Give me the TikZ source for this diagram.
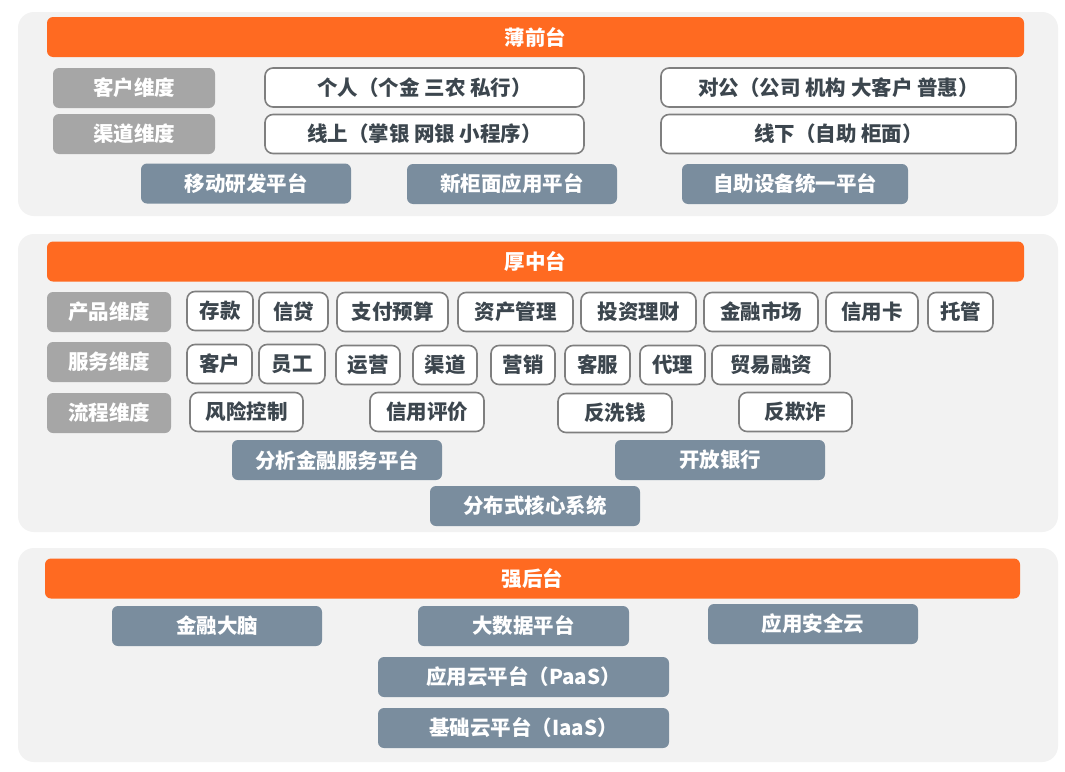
\documentclass[tikz,border=0pt]{standalone}
\usepackage{fontspec}
\setmainfont{Noto Sans CJK SC}
\definecolor{tierorange}{HTML}{FF6A21}
\definecolor{dimgray}{HTML}{A6A6A6}
\definecolor{platslate}{HTML}{7A8D9E}
\definecolor{itemtext}{HTML}{3C464E}
\definecolor{itemline}{HTML}{7F7F7F}
\definecolor{panelgray}{HTML}{F2F2F2}
\tikzset{
  every node/.style={font=\fontsize{20.5}{24}\selectfont\bfseries, inner sep=0pt},
  panel/.style={fill=panelgray, rounded corners=16},
  tier/.style={fill=tierorange, text=white, rounded corners=6, minimum width=977, minimum height=40},
  dim/.style={fill=dimgray, text=white, rounded corners=6, minimum height=40},
  item/.style={draw=itemline, line width=1.6pt, fill=white, text=itemtext, rounded corners=8, minimum height=39},
  plat/.style={fill=platslate, text=white, rounded corners=6, minimum width=210, minimum height=40},
}
\begin{document}
\begin{tikzpicture}[x=1pt,y=-1pt]
\useasboundingbox[fill=white] (0,0) rectangle (1065,771);

% front
\fill[panel] (18,12) rectangle (1058,216);
\node[tier] (front) at (535.5,37) {薄前台};
\node[dim, minimum width=162] (kehudim) at (134,88) {客户维度};
\node[dim, minimum width=162] (qudaodim) at (134,134) {渠道维度};
\node[item, minimum width=319] (geren) at (424.5,87.5) {个人（个金 三农 私行）};
\node[item, minimum width=355] (duigong) at (838.5,87.5) {对公（公司 机构 大客户 普惠）};
\node[item, minimum width=319] (xianshang) at (424.5,134) {线上（掌银 网银 小程序）};
\node[item, minimum width=355] (xianxia) at (838.5,134) {线下（自助 柜面）};
\node[plat] (yidong) at (246,183.5) {移动研发平台};
\node[plat] (guimian) at (512,184) {新柜面应用平台};
\node[plat, minimum width=226] (zizhu) at (795,184) {自助设备统一平台};

% middle
\fill[panel] (18,234) rectangle (1058,532);
\node[tier] (middle) at (535.5,261.5) {厚中台};
\node[dim, minimum width=124] (chanpindim) at (109,312) {产品维度};
\node[dim, minimum width=124] (fuwudim) at (109,362) {服务维度};
\node[dim, minimum width=124] (liuchengdim) at (109,413) {流程维度};

\node[item, minimum width=66] (cunkuan) at (220,311) {存款};
\node[item, minimum width=69] (xindai) at (293.5,312) {信贷};
\node[item, minimum width=111] (zhifu) at (392.5,312) {支付预算};
\node[item, minimum width=115] (zichan) at (515.5,312) {资产管理};
\node[item, minimum width=115] (touzi) at (638.5,312) {投资理财};
\node[item, minimum width=114] (shichang) at (761,312) {金融市场};
\node[item, minimum width=92] (xinyongka) at (872,312) {信用卡};
\node[item, minimum width=65] (tuoguan) at (960.5,312) {托管};

\node[item, minimum width=65] (kehu) at (219.5,364) {客户};
\node[item, minimum width=66] (yuangong) at (292,364) {员工};
\node[item, minimum width=64] (yunying) at (368,365) {运营};
\node[item, minimum width=64] (qudao) at (445,365) {渠道};
\node[item, minimum width=64] (yingxiao) at (523,365) {营销};
\node[item, minimum width=65] (kefu) at (597.5,365) {客服};
\node[item, minimum width=65] (daili) at (672.5,365) {代理};
\node[item, minimum width=118] (maoyi) at (771,365) {贸易融资};

\node[item, minimum width=113] (fengxian) at (246.5,412) {风险控制};
\node[item, minimum width=114] (pingjia) at (427,412) {信用评价};
\node[item, minimum width=114] (fanxiqian) at (615,413) {反洗钱};
\node[item, minimum width=113] (fanqizha) at (795.5,412) {反欺诈};

\node[plat] (fenxi) at (337,460) {分析金融服务平台};
\node[plat] (kaifang) at (720,460) {开放银行};
\node[plat] (hexin) at (535,506) {分布式核心系统};

% back
\fill[panel] (18,548) rectangle (1058,762);
\node[tier, minimum width=975] (back) at (532.5,578.5) {强后台};
\node[plat] (danao) at (217,626) {金融大脑};
\node[plat, minimum width=211] (dashuju) at (523.5,626) {大数据平台};
\node[plat] (anquan) at (813,624) {应用安全云};
\node[plat, minimum width=291] (paas) at (523.5,677) {应用云平台（PaaS）};
\node[plat, minimum width=291] (iaas) at (523.5,728) {基础云平台（IaaS）};
\end{tikzpicture}
\end{document}
